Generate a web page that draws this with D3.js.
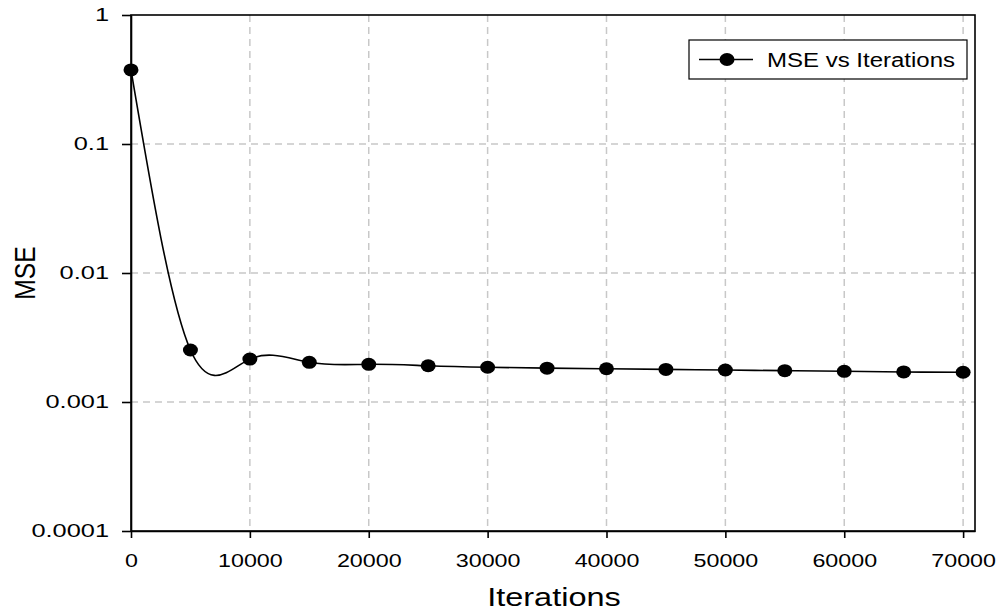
<!DOCTYPE html>
<html>
<head>
<meta charset="utf-8">
<script src="https://cdn.jsdelivr.net/npm/d3@7"></script>
<style>
	body { margin: 0; background: #fff; }
	text { font-family: 'Liberation Sans', Arial, sans-serif; fill: #000; }
</style>
</head>
<body>
<svg id="viz" width="1000" height="612"></svg>
<script>
var iterations = [ 0, 5000, 10000, 15000, 20000, 25000, 30000, 35000, 40000, 45000, 50000, 55000, 60000, 65000, 70000 ];
var mse = [ 0.375, 0.00253, 0.00215, 0.00203, 0.00196, 0.00191, 0.00186, 0.00183, 0.00181, 0.00179, 0.00177, 0.00175, 0.00173, 0.00171, 0.0017 ];
var xTicks = [ 0, 10000, 20000, 30000, 40000, 50000, 60000, 70000 ];
var yTicks = [ 1, 0.1, 0.01, 0.001, 0.0001 ];
var yTickLabels = [ '1', '0.1', '0.01', '0.001', '0.0001' ];
var seriesName = 'MSE vs Iterations';

var plotLeft = 131, plotTop = 15, plotRight = 975, plotBottom = 531;

var data = iterations.map( function ( d, i ) {
	return { x: d, y: mse[i] };
} );

var xScale = d3.scaleLinear().domain( [ 0, 71000 ] ).range( [ plotLeft, plotRight ] );
var yScale = d3.scaleLog().domain( [ 0.0001, 1 ] ).range( [ plotBottom, plotTop ] );

var svg = d3.select( '#viz' );

// widen text like the original (it was stretched horizontally)
var stretch = function ( sel, k ) {
	sel.each( function () {
		var w = this.getComputedTextLength();
		d3.select( this ).attr( 'textLength', w * k ).attr( 'lengthAdjust', 'spacingAndGlyphs' );
	} );
};

// grid
svg.append( 'g' ).selectAll( 'line' )
	.data( xTicks.filter( function ( d ) { return d > 0; } ) )
	.enter()
	.append( 'line' )
	.attr( 'x1', function ( d ) { return xScale( d ); } )
	.attr( 'x2', function ( d ) { return xScale( d ); } )
	.attr( 'y1', plotTop )
	.attr( 'y2', plotBottom )
	.attr( 'stroke', '#c8c8c8' )
	.attr( 'stroke-width', 1.5 )
	.attr( 'stroke-dasharray', '7,5' );
svg.append( 'g' ).selectAll( 'line' )
	.data( yTicks.slice( 1, 4 ) )
	.enter()
	.append( 'line' )
	.attr( 'x1', plotLeft )
	.attr( 'x2', plotRight )
	.attr( 'y1', function ( d ) { return yScale( d ); } )
	.attr( 'y2', function ( d ) { return yScale( d ); } )
	.attr( 'stroke', '#c8c8c8' )
	.attr( 'stroke-width', 1.5 )
	.attr( 'stroke-dasharray', '7,5' );

// axes
var xAxis = svg.append( 'g' )
	.attr( 'transform', 'translate(0,' + plotBottom + ')' )
	.call( d3.axisBottom( xScale ).tickValues( xTicks ).tickSize( 7 ).tickSizeOuter( 0 ).tickFormat( d3.format( 'd' ) ) );
xAxis.selectAll( 'text' ).style( 'font-size', '17.5px' ).attr( 'y', 24 ).call( stretch, 1.33 );

var yAxis = svg.append( 'g' )
	.attr( 'transform', 'translate(' + plotLeft + ',0)' )
	.call( d3.axisLeft( yScale ).tickValues( yTicks ).tickSize( 9 ).tickSizeOuter( 0 )
		.tickFormat( function ( d, i ) { return yTickLabels[i]; } ) );
yAxis.selectAll( 'text' ).style( 'font-size', '17.5px' ).attr( 'x', -22 ).call( stretch, 1.45 );

svg.selectAll( '.domain, .tick line' ).attr( 'stroke', '#000' ).attr( 'stroke-width', 1.6 );

// frame
svg.append( 'rect' )
	.attr( 'x', plotLeft )
	.attr( 'y', plotTop )
	.attr( 'width', plotRight - plotLeft )
	.attr( 'height', plotBottom - plotTop )
	.attr( 'fill', 'none' )
	.attr( 'stroke', '#000' )
	.attr( 'stroke-width', 1.6 );

// series
var line = d3.line()
	.x( function ( d ) { return xScale( d.x ); } )
	.y( function ( d ) { return yScale( d.y ); } )
	.curve( d3.curveNatural );

svg.append( 'path' )
	.datum( data )
	.attr( 'd', line )
	.attr( 'fill', 'none' )
	.attr( 'stroke', '#000' )
	.attr( 'stroke-width', 1.6 );

svg.append( 'g' ).selectAll( 'ellipse' )
	.data( data )
	.enter()
	.append( 'ellipse' )
	.attr( 'cx', function ( d ) { return xScale( d.x ); } )
	.attr( 'cy', function ( d ) { return yScale( d.y ); } )
	.attr( 'rx', 7.5 )
	.attr( 'ry', 6.5 )
	.attr( 'fill', '#000' );

// axis titles
svg.append( 'text' )
	.attr( 'x', ( plotLeft + plotRight ) / 2 + 1 )
	.attr( 'y', 606 )
	.attr( 'text-anchor', 'middle' )
	.style( 'font-size', '25px' )
	.text( 'Iterations' )
	.call( stretch, 1.3 );

svg.append( 'text' )
	.attr( 'transform', 'translate(35,' + ( ( plotTop + plotBottom ) / 2 ) + ') rotate(-90)' )
	.attr( 'text-anchor', 'middle' )
	.style( 'font-size', '29px' )
	.text( 'MSE' )
	.call( stretch, 0.85 );

// legend
var legend = svg.append( 'g' );
legend.append( 'rect' )
	.attr( 'x', 689 )
	.attr( 'y', 40 )
	.attr( 'width', 278 )
	.attr( 'height', 39 )
	.attr( 'fill', '#fff' )
	.attr( 'stroke', '#000' )
	.attr( 'stroke-width', 1.2 );
legend.append( 'line' )
	.attr( 'x1', 699 )
	.attr( 'x2', 753 )
	.attr( 'y1', 59.5 )
	.attr( 'y2', 59.5 )
	.attr( 'stroke', '#000' )
	.attr( 'stroke-width', 1.6 );
legend.append( 'ellipse' )
	.attr( 'cx', 727 )
	.attr( 'cy', 59.5 )
	.attr( 'rx', 7.5 )
	.attr( 'ry', 6.5 )
	.attr( 'fill', '#000' );
legend.append( 'text' )
	.attr( 'x', 767 )
	.attr( 'y', 67 )
	.style( 'font-size', '20px' )
	.text( seriesName )
	.call( stretch, 1.2 );
</script>
</body>
</html>
